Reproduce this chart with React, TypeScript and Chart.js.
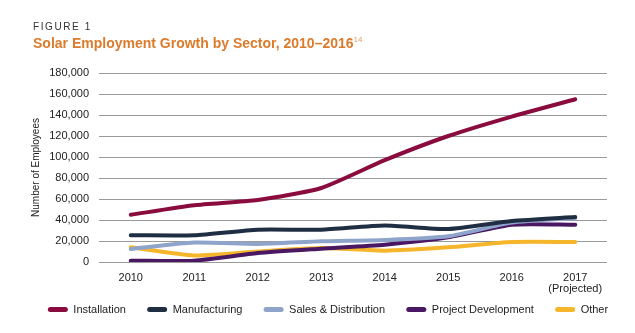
import React, { useEffect, useRef } from "react";
import { Chart, registerables } from "chart.js";

Chart.register(...registerables);

const categories: (string | string[])[] = ["2010", "2011", "2012", "2013", "2014", "2015", "2016", ["2017", "(Projected)"]];
const installation = [45000, 54000, 59000, 70500, 97000, 120000, 138500, 155000];
const manufacturing = [25500, 25500, 30800, 30800, 34800, 31400, 39000, 42800];
const salesDistribution = [12400, 18500, 17200, 19700, 21000, 24500, 37500, 41800];
const projectDevelopment = [1300, 1300, 8500, 12700, 16500, 23500, 35500, 35500];
const other = [14000, 6300, 10000, 13300, 10800, 14000, 19000, 19000];
const yTicks = [0, 20000, 40000, 60000, 80000, 100000, 120000, 140000, 160000, 180000];

const seriesNames = ["Installation", "Manufacturing", "Sales & Distribution", "Project Development", "Other"];
const seriesColors = ["#8A0C3E", "#1F2E42", "#8FA4CB", "#4A1862", "#F6B62C"];
const seriesData = [installation, manufacturing, salesDistribution, projectDevelopment, other];

const FONT = "'Liberation Sans', Arial, sans-serif";
const LEGEND_GAP = "    ";

export default function App() {
  const canvasRef = useRef<HTMLCanvasElement | null>(null);

  useEffect(() => {
    if (!canvasRef.current) return;
    const chart = new Chart(canvasRef.current, {
      type: "line",
      data: {
        labels: categories,
        datasets: seriesNames.map((name, i) => ({
          label: name,
          data: seriesData[i],
          borderColor: seriesColors[i],
          backgroundColor: seriesColors[i],
          borderWidth: 4,
          tension: 0.2,
          pointRadius: 0,
          borderCapStyle: "round" as const,
          borderJoinStyle: "round" as const,
          yAxisID: "y",
        })),
      },
      options: {
        animation: false,
        responsive: false,
        maintainAspectRatio: false,
        layout: { padding: { top: 65, left: 21, right: 0, bottom: 0 } },
        plugins: {
          tooltip: { enabled: false },
          legend: {
            position: "bottom",
            labels: {
              boxWidth: 20,
              boxHeight: 5,
              useBorderRadius: true,
              borderRadius: 2.5,
              padding: 9,
              color: "#222",
              font: { family: FONT, size: 11 },
              generateLabels: (c: any) =>
                Chart.defaults.plugins.legend.labels
                  .generateLabels(c)
                  .map((l: any, i: number, arr: any[]) => ({
                    ...l,
                    lineWidth: 0,
                    text: i < arr.length - 1 ? l.text + LEGEND_GAP : l.text,
                  })),
            },
          },
        },
        scales: {
          x: {
            offset: true,
            grid: { display: false, drawTicks: false },
            border: { display: false },
            ticks: {
              color: "#222",
              padding: 11,
              maxRotation: 0,
              autoSkip: false,
              font: { family: FONT, size: 11, lineHeight: 0.95 },
            },
            afterFit: (s: any) => {
              s.height = 33;
            },
          },
          y: {
            position: "left",
            min: 0,
            max: 180000,
            afterBuildTicks: (s: any) => {
              s.ticks = yTicks.map((v) => ({ value: v }));
            },
            grid: { color: "#9a9a9a", lineWidth: 1, drawTicks: false },
            border: { display: false },
            ticks: {
              color: "#222",
              padding: 10,
              font: { family: FONT, size: 11 },
              callback: (v: any) => Number(v).toLocaleString("en-US"),
            },
            title: {
              display: true,
              text: "Number of Employees",
              color: "#222",
              font: { family: FONT, size: 10 },
              padding: { top: 1, bottom: 4 },
            },
            afterFit: (s: any) => {
              s.width = 70;
            },
          },
          yRight: {
            position: "right",
            display: true,
            grid: { display: false, drawTicks: false },
            border: { display: false },
            ticks: { display: false },
            afterFit: (s: any) => {
              s.width = 20;
            },
          },
        },
      },
    });
    return () => chart.destroy();
  }, []);

  return (
    <div style={{ position: "relative", width: 619, height: 317 }}>
      <canvas ref={canvasRef} width={619} height={317} style={{ display: "block" }} />
      <div
        style={{
          position: "absolute",
          left: 25,
          top: 13,
          fontFamily: FONT,
          fontSize: 10,
          letterSpacing: 1.6,
          color: "#333",
          lineHeight: "12px",
        }}
      >
        FIGURE 1
      </div>
      <div
        style={{
          position: "absolute",
          left: 25,
          top: 27,
          fontFamily: FONT,
          fontSize: 14,
          fontWeight: "bold",
          color: "#DC7B2C",
          lineHeight: "16px",
          whiteSpace: "nowrap",
        }}
      >
        Solar Employment Growth by Sector, 2010–2016
        <span style={{ fontSize: 8, fontWeight: "normal", verticalAlign: "top", lineHeight: "10px", color: "#E0A070" }}>14</span>
      </div>
    </div>
  );
}
